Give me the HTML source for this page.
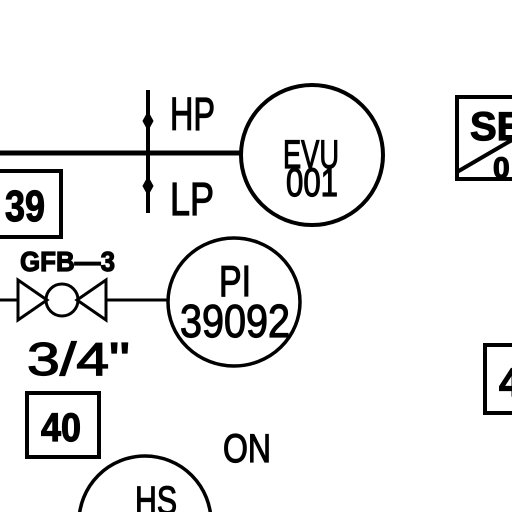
<!DOCTYPE html>
<html><head><meta charset="utf-8"><style>
html,body{margin:0;padding:0;background:#fff;width:512px;height:512px;overflow:hidden}
svg{display:block;overflow:hidden}
svg text{font-family:"Liberation Sans",sans-serif;fill:#000;stroke:#000;stroke-width:1.2}
</style></head><body>
<svg width="512" height="512" viewBox="0 0 512 512">
<g stroke="#000" fill="none">
 <line x1="0" y1="153" x2="242" y2="153" stroke-width="5"/>
 <line x1="148" y1="90" x2="148" y2="213" stroke-width="4"/>
 <path d="M148 112 L153 121 L148 130 L143 121Z" fill="#000"/>
 <path d="M148 177 L153 186 L148 195 L143 186Z" fill="#000"/>
 <ellipse cx="312" cy="155" rx="71" ry="70" stroke-width="4"/>
 <rect x="-5" y="171" width="66" height="66" stroke-width="4"/>
 <line x1="0" y1="300" x2="18" y2="300" stroke-width="3"/>
 <path d="M18 280 L18 320 L47 300Z M106 280 L106 320 L77 300Z" stroke-width="3"/>
 <circle cx="62" cy="300" r="16" stroke-width="3"/>
 <line x1="106" y1="300" x2="168" y2="300" stroke-width="3"/>
 <ellipse cx="234" cy="302" rx="66" ry="64" stroke-width="3.5"/>
 <rect x="27" y="393" width="72" height="64" stroke-width="4"/>
 <circle cx="145" cy="522" r="66" stroke-width="3.5"/>
 <rect x="457" y="97" width="70" height="82" stroke-width="4"/>
 <line x1="457" y1="172" x2="512" y2="140" stroke-width="4"/>
 <rect x="485" y="345" width="50" height="68" stroke-width="4"/>
</g>
<text x="170" y="130" font-size="46" textLength="45" lengthAdjust="spacingAndGlyphs">HP</text>
<text x="170" y="215" font-size="46" textLength="44" lengthAdjust="spacingAndGlyphs">LP</text>
<text x="283" y="168" font-size="40" textLength="56" lengthAdjust="spacingAndGlyphs">EVU</text>
<text x="286" y="196" font-size="40" textLength="52" lengthAdjust="spacingAndGlyphs">001</text>
<text x="5" y="221" font-size="44" textLength="40" lengthAdjust="spacingAndGlyphs" font-weight="bold">39</text>
<text x="20" y="271" font-size="28" textLength="95" lengthAdjust="spacingAndGlyphs" font-weight="bold">GFB—3</text>
<text x="219" y="296" font-size="44" textLength="32" lengthAdjust="spacingAndGlyphs">PI</text>
<text x="180" y="337" font-size="46" textLength="110" lengthAdjust="spacingAndGlyphs">39092</text>
<text x="27" y="375" font-size="46" textLength="103" lengthAdjust="spacingAndGlyphs">3/4"</text>
<text x="41" y="441" font-size="40" textLength="40" lengthAdjust="spacingAndGlyphs" font-weight="bold">40</text>
<text x="223" y="462" font-size="40" textLength="48" lengthAdjust="spacingAndGlyphs">ON</text>
<text x="135" y="514" font-size="40" textLength="42" lengthAdjust="spacingAndGlyphs">HS</text>
<text x="470" y="140" font-size="40" font-weight="bold">SE</text>
<text x="493" y="178" font-size="30" font-weight="bold">0</text>
<text x="499" y="396" font-size="40" font-weight="bold">4</text>
</svg>
</body></html>
